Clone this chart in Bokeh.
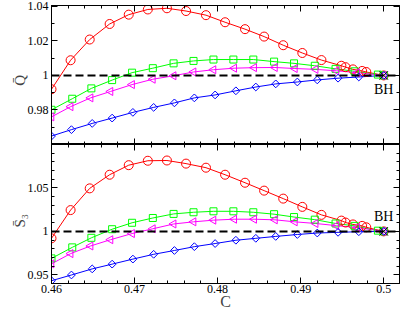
import numpy as np
from bokeh.plotting import figure
from bokeh.models import Range1d, LinearAxis, FixedTicker, CustomJSTickFormatter, Span
from bokeh.layouts import column
from bokeh.embed import file_html
from bokeh.resources import INLINE
from bokeh.core.properties import value

# ---- data ----
red_c = [0.46, 0.4623, 0.4646, 0.4670, 0.4693, 0.4716, 0.4739, 0.4762, 0.4786, 0.4809,
         0.4833, 0.4856, 0.4879, 0.4902, 0.4925, 0.4949, 0.4954, 0.4963, 0.4974, 0.4979, 0.5]
red_q = [0.992, 1.0088, 1.0208, 1.0298, 1.0352, 1.0382, 1.0389, 1.0373, 1.0349, 1.0308,
         1.0268, 1.0225, 1.0175, 1.0130, 1.0089, 1.0056, 1.0048, 1.0035, 1.0026, 1.0020, 1.0]
red_s = [0.992, 1.0245, 1.0495, 1.0652, 1.0762, 1.0813, 1.0816, 1.0780, 1.0733, 1.0652,
         1.0560, 1.0469, 1.0377, 1.0282, 1.0190, 1.0124, 1.0102, 1.0080, 1.0063, 1.0047, 1.0]

green_c = [0.46, 0.4625, 0.4648, 0.4673, 0.4697, 0.4722, 0.4747, 0.4771, 0.4795, 0.4819,
           0.4843, 0.4868, 0.4892, 0.4917, 0.4942, 0.4965, 0.4993, 0.5]
green_q = [0.9801, 0.9865, 0.9925, 0.9973, 1.0016, 1.0042, 1.0070, 1.0084, 1.0092, 1.0092,
           1.0092, 1.0080, 1.0070, 1.0056, 1.0038, 1.0024, 1.0005, 1.0]
green_s = [0.9689, 0.9816, 0.9926, 1.0025, 1.0099, 1.0154, 1.0201, 1.0220, 1.0231, 1.0231,
           1.0220, 1.0198, 1.0165, 1.0135, 1.0091, 1.0063, 1.0008, 1.0]

mag_c = [0.46, 0.4623, 0.4647, 0.4671, 0.4697, 0.4722, 0.4747, 0.4771, 0.4795, 0.4820,
         0.4844, 0.4869, 0.4893, 0.4918, 0.4943, 0.4968, 0.5]
mag_q = [0.976, 0.9819, 0.9870, 0.9907, 0.9947, 0.9978, 0.9998, 1.0020, 1.0033, 1.0042,
         1.0045, 1.0046, 1.0040, 1.0035, 1.0027, 1.0016, 1.0]
mag_s = [0.9626, 0.9744, 0.9832, 0.9904, 0.9975, 1.0030, 1.0085, 1.0110, 1.0129, 1.0140,
         1.0140, 1.0133, 1.0110, 1.0091, 1.0066, 1.0044, 1.0]

blue_c = [0.46, 0.4624, 0.4649, 0.4673, 0.4698, 0.4723, 0.4748, 0.4772, 0.4797, 0.4822,
          0.4846, 0.4870, 0.4896, 0.4920, 0.4945, 0.4970, 0.5]
blue_q = [0.9649, 0.9686, 0.9722, 0.9753, 0.9786, 0.9815, 0.9841, 0.9870, 0.9887, 0.9911,
          0.9933, 0.9951, 0.9962, 0.9974, 0.9984, 0.9991, 1.0]
blue_s = [0.9432, 0.9498, 0.9568, 0.9623, 0.9681, 0.9736, 0.9780, 0.9824, 0.9860, 0.9898,
          0.9920, 0.9942, 0.9964, 0.9981, 0.9989, 0.9996, 1.0]

bh_c = [0.5]
bh_v = [1.0]
bh_text = ["BH"]

x_ticks = [0.46, 0.47, 0.48, 0.49, 0.50]
q_ticks = [0.98, 1.00, 1.02, 1.04]
s_ticks = [0.95, 1.00, 1.05]

RED, GREEN, MAG, BLUE = "#ff0000", "#00ff00", "#ff00ff", "#0000ff"
FONT = "Liberation Serif"

fmt = CustomJSTickFormatter(code="return Number(tick.toFixed(4)).toString();")
blank = CustomJSTickFormatter(code="return '';")

x_minor = [round(0.46 + 0.002 * i, 4) for i in range(22)]


def style_axis(ax, ticker, labels):
    ax.ticker = ticker
    ax.major_tick_in = 6
    ax.major_tick_out = 0
    ax.minor_tick_in = 3
    ax.minor_tick_out = 0
    ax.axis_line_color = "black"
    ax.major_tick_line_color = "black"
    ax.minor_tick_line_color = "black"
    ax.major_label_text_font = FONT
    ax.major_label_text_color = "black"
    if labels:
        ax.formatter = fmt
        ax.major_label_text_font_size = "12px"
        ax.major_label_standoff = 1
    else:
        ax.formatter = blank
        ax.major_label_text_font_size = "0px"
        ax.major_label_standoff = 0


def panel(h, yr, yticks, yminor, ylabel, series, top_b, bot_b, show_x, bh_below):
    p = figure(width=401, height=h, x_range=Range1d(0.46, 0.5019), y_range=Range1d(*yr),
               output_backend="svg", toolbar_location=None,
               min_border_left=38, min_border_right=2, min_border_top=top_b,
               min_border_bottom=bot_b)
    p.grid.visible = False
    p.outline_line_color = "black"
    p.outline_line_width = 1
    xt = FixedTicker(ticks=x_ticks, minor_ticks=x_minor)
    yt = FixedTicker(ticks=yticks, minor_ticks=yminor)
    style_axis(p.xaxis[0], xt, show_x)
    style_axis(p.yaxis[0], yt, True)
    p.yaxis[0].major_label_standoff = 3
    p.yaxis[0].axis_label = ylabel
    p.yaxis[0].axis_label_orientation = np.pi / 2
    p.yaxis[0].axis_label_text_font = FONT
    p.yaxis[0].axis_label_text_font_style = "normal"
    p.yaxis[0].axis_label_text_font_size = "15px"
    p.yaxis[0].axis_label_standoff = 5
    if show_x:
        p.xaxis[0].axis_label = "C"
        p.xaxis[0].axis_label_text_font = FONT
        p.xaxis[0].axis_label_text_font_style = "normal"
        p.xaxis[0].axis_label_text_font_size = "16px"
        p.xaxis[0].axis_label_standoff = -3
    top = LinearAxis()
    style_axis(top, FixedTicker(ticks=x_ticks, minor_ticks=x_minor), False)
    right = LinearAxis()
    style_axis(right, FixedTicker(ticks=yticks, minor_ticks=yminor), False)
    p.add_layout(top, "above")
    p.add_layout(right, "right")

    (rc, rv), (gc, gv), (mc, mv), (bc, bv) = series
    p.line(rc, rv, line_color=RED, line_width=1)
    p.line(gc, gv, line_color=GREEN, line_width=1)
    p.line(mc, mv, line_color=MAG, line_width=1)
    p.line(bc, bv, line_color=BLUE, line_width=1)
    p.scatter(rc, rv, marker="circle", size=9, fill_color=None, line_color=RED, line_width=1)
    p.scatter(gc, gv, marker="square", size=7, fill_color=None, line_color=GREEN, line_width=1)
    p.scatter(mc, mv, marker="triangle", size=8, angle=np.pi / 2, fill_color=None,
              line_color=MAG, line_width=1)
    p.scatter(bc, bv, marker="square", size=5.5, angle=np.pi / 4, fill_color=None,
              line_color=BLUE, line_width=1)
    p.add_layout(Span(location=1.0, dimension="width", line_color="black",
                      line_dash="8 4", line_width=2))
    p.scatter(bh_c, bh_v, marker="x", size=12, line_color="black", line_width=1)
    if bh_below:
        p.text(bh_c, bh_v, text=bh_text, text_font=value(FONT), text_font_size="14px",
               text_align="center", text_baseline="top", y_offset=7, text_color="black")
    else:
        p.text(bh_c, bh_v, text=bh_text, text_font=value(FONT), text_font_size="14px",
               text_align="center", text_baseline="bottom", y_offset=-7, text_color="black")
    return p


q_minor = [round(0.96 + 0.01 * i, 3) for i in range(9)]
s_minor = [round(0.94 + 0.01 * i, 3) for i in range(17)]

p1 = panel(144, (0.96, 1.0405), q_ticks, q_minor, "Q\u0304",
           [(red_c, red_q), (green_c, green_q), (mag_c, mag_q), (blue_c, blue_q)],
           5, 0, False, True)
p2 = panel(168, (0.94, 1.10), s_ticks, s_minor, "S\u0304\u2083",
           [(red_c, red_s), (green_c, green_s), (mag_c, mag_s), (blue_c, blue_s)],
           0, 28, True, False)

layout = column(p1, p2)
open("out.html", "w").write(file_html(layout, INLINE))
